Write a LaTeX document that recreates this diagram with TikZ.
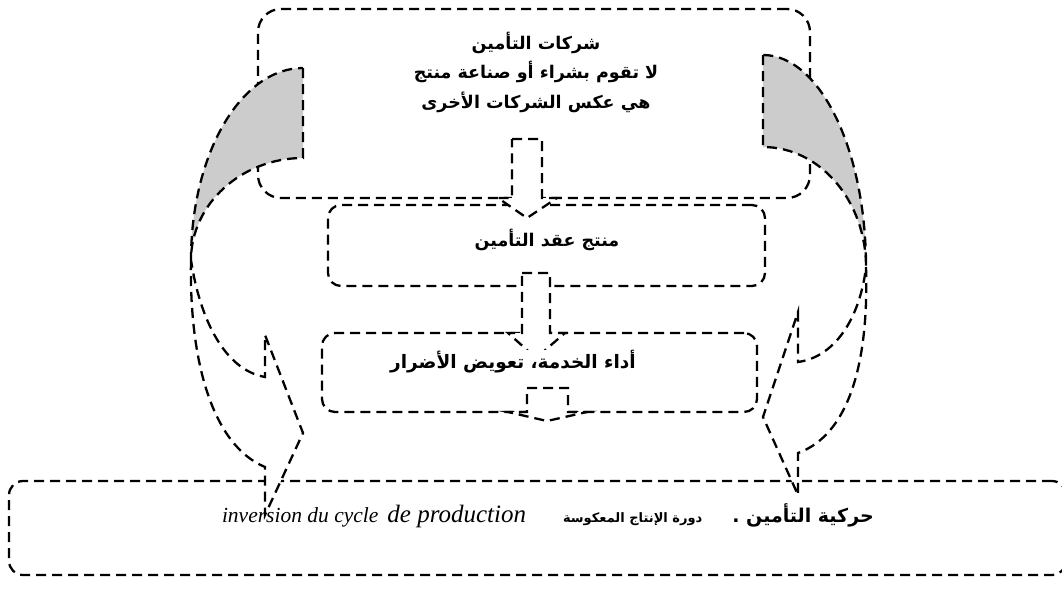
\documentclass[tikz,border=0pt]{standalone}
\usepackage{fontspec}
\newfontfamily\arabicfont[Script=Arabic]{DejaVu Sans}
\newfontfamily\latinfont{Liberation Serif}
\TeXXeTstate=1
\definecolor{ribbongrey}{RGB}{204,204,204}
\tikzset{
  dashline/.style={line width=2.3pt,dash pattern=on 10pt off 6pt},
  box/.style={dashline,draw,fill=white,rounded corners=#1,inner sep=0pt},
  blockarrow/.style={dashline,fill=white,line join=miter},
  ribbon/.style={dashline,fill=white},
  ribbonback/.style={dashline,fill=ribbongrey},
  arlabel/.style={font=\arabicfont\bfseries\fontsize{17.5}{29.5}\selectfont,inner sep=1pt}
}
\begin{document}
\begin{tikzpicture}[x=1pt,y=-1pt]
  \useasboundingbox (0,0) rectangle (1062,589);

  % the four boxes
  \node[box=23pt,minimum width=552pt,minimum height=189pt] (firms) at (534,103.5) {};
  \node[box=13pt,minimum width=437pt,minimum height=81pt] (contract) at (546.5,245.5) {};
  \node[box=13pt,minimum width=435pt,minimum height=79pt] (service) at (539.5,372.5) {};
  \node[box=14pt,minimum width=1057pt,minimum height=94pt] (cycle) at (537.5,528) {};

  % left curved arrow
  \coordinate (lt1) at (303,68);
  \coordinate (lt2) at (303,158);
  \coordinate (lx) at (191,260);
  \coordinate (lb1) at (265,377);
  \coordinate (lb2) at (265,467);
  \coordinate (lw1) at (265,335);
  \coordinate (lw2) at (265,515);
  \coordinate (ltip) at (303,433);
  \draw[ribbonback] (lt1) -- (lt2) .. controls (241.7,158) and (191,204) .. (lx)
    .. controls (191,154) and (241,68) .. cycle;
  \draw[ribbon] (lx) .. controls (189,360) and (212,445) .. (lb2) -- (lw2) -- (ltip)
    -- (lw1) -- (lb1) .. controls (225,370) and (200,320) .. cycle;

  % right curved arrow
  \coordinate (rt1) at (763,55);
  \coordinate (rt2) at (763,147);
  \coordinate (rx) at (866,267);
  \coordinate (rb1) at (798,362);
  \coordinate (rb2) at (798,453);
  \coordinate (rw1) at (798,312);
  \coordinate (rw2) at (798,495);
  \coordinate (rtip) at (763,417);
  \draw[ribbonback] (rt1) -- (rt2) .. controls (820,147) and (866,201) .. (rx)
    .. controls (866,150) and (820,55) .. cycle;
  \draw[ribbon] (rx) .. controls (869,365) and (848,435) .. (rb2) -- (rw2) -- (rtip)
    -- (rw1) -- (rb1) .. controls (835,357) and (860,318) .. cycle;

  % down arrows between the boxes
  \draw[blockarrow] (512,139) -- (542,139) -- (542,198) -- (557,198) -- (527,218)
    -- (498,198) -- (512,198) -- cycle;
  \draw[blockarrow] (522,273) -- (550,273) -- (550,333) -- (565,333) -- (536,358)
    -- (508,333) -- (522,333) -- cycle;
  \draw[blockarrow] (527,388) -- (568,388) -- (568,412) -- (587,412) -- (547,421)
    -- (508,412) -- (527,412) -- cycle;

  % texts
  \node[arlabel,align=center] (firmstext) at (536,72)
    {\beginR شركات التأمين\endR\\ \beginR لا تقوم بشراء أو صناعة منتج\endR\\
     \beginR هي عكس الشركات الأخرى\endR};
  \node[arlabel] (contracttext) at (547,240) {\beginR منتج عقد التأمين\endR};
  \node[arlabel,fill=white,font=\arabicfont\bfseries\fontsize{18.5}{22}\selectfont] (servicetext) at (513,362)
    {\beginR أداء الخدمة، تعويض الأضرار\endR};
  \node[inner sep=0pt,anchor=base east] (cycletext) at (874,522)
    {\arabicfont\bfseries\beginR{\fontsize{19}{22}\selectfont حركية التأمين .}\hspace{30pt}%
     {\fontsize{13}{15}\selectfont دورة الإنتاج المعكوسة}\hspace{37pt}%
     \beginL{\latinfont\mdseries\itshape\fontsize{21.5}{24}\selectfont inversion du cycle}\hspace{9pt}%
     {\latinfont\mdseries\itshape\fontsize{25}{30}\selectfont de production}\endL\endR};
\end{tikzpicture}
\end{document}
